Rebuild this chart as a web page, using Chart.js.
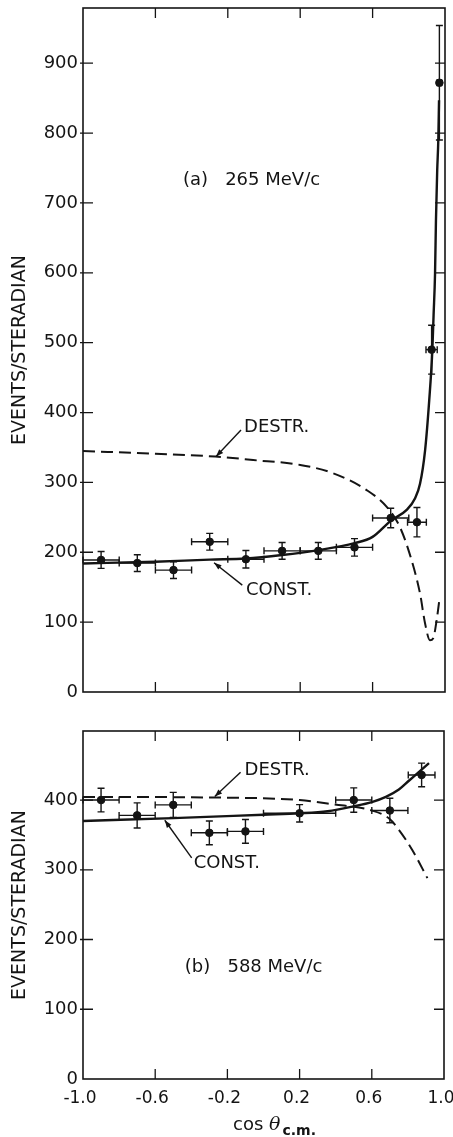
<!DOCTYPE html>
<html><head><meta charset="utf-8">
<script src="https://cdn.jsdelivr.net/npm/chart.js@4.4.0/dist/chart.umd.min.js"></script>
<style>
html,body{margin:0;padding:0;background:#fff;}
body{width:453px;height:1137px;position:relative;overflow:hidden;}
canvas{position:absolute;left:0;}
#ca{top:0;} #cb{top:710px;}
</style></head><body>
<canvas id="ca" width="453" height="700"></canvas>
<canvas id="cb" width="453" height="427"></canvas>
<script>
// ---------- data ----------
const xTickValues = [-1.0, -0.6, -0.2, 0.2, 0.6, 1.0];
const yTicksA = [0, 100, 200, 300, 400, 500, 600, 700, 800, 900];
const yTicksB = [0, 100, 200, 300, 400];

// panel (a) 265 MeV/c measured points
const cosA  = [-0.9, -0.7, -0.5, -0.3, -0.1, 0.1, 0.3, 0.5, 0.7, 0.845, 0.926, 0.969];
const valA  = [189, 184.5, 174.5, 215, 190, 202, 202, 207, 249, 243, 490, 872];
const yErrA = [12, 12, 12, 12, 12.5, 12, 12, 12.5, 14, 21, 35, 82];
const xErrA = [0.1, 0.1, 0.1, 0.1, 0.1, 0.1, 0.1, 0.1, 0.1, 0.052, 0.031, 0.012];
// panel (a) curves
const constAx = [-1, -0.6, -0.3, -0.1, 0.1, 0.3, 0.5, 0.6, 0.7, 0.79, 0.834, 0.862, 0.89, 0.913, 0.93, 0.937, 0.945, 0.95, 0.957, 0.963, 0.967];
const constAy = [184, 186.5, 189.5, 191, 196, 203, 213, 222, 245, 261, 277, 298, 346, 418, 489, 540, 599, 675, 747, 790, 847];
const destrAx = [-1, -0.6, -0.27, -0.06, 0.2, 0.383, 0.567, 0.678, 0.751, 0.815, 0.862, 0.89, 0.917, 0.935, 0.954, 0.969];
const destrAy = [345, 341, 337, 332, 325, 313, 289, 265, 236, 189, 141, 98, 74, 77, 103, 132];

// panel (b) 588 MeV/c measured points
const cosB  = [-0.9, -0.7, -0.5, -0.3, -0.1, 0.2, 0.5, 0.7, 0.876];
const valB  = [400, 378, 393, 353, 355, 381, 400, 385, 436];
const yErrB = [17, 18, 18, 17, 17, 12.5, 17.5, 17.5, 17];
const xErrB = [0.1, 0.1, 0.1, 0.1, 0.1, 0.2, 0.1, 0.1, 0.074];
// panel (b) curves
const constBx = [-1, -0.5, 0, 0.2, 0.355, 0.5, 0.6, 0.678, 0.75, 0.807, 0.86, 0.917];
const constBy = [370, 374, 379, 381, 384, 391, 397, 404.5, 415, 428, 440, 453];
const destrBx = [-1, -0.27, 0.2, 0.383, 0.6, 0.696, 0.751, 0.825, 0.908];
const destrBy = [404.5, 403.6, 400, 394, 385, 373.5, 357, 328, 288];

// annotation texts (positions in data units)
const notesA = [
  {text: '(a)   265 MeV/c', x: -0.448, y: 732},
  {text: 'DESTR.', x: -0.11, y: 379, from: [-0.127, 375], to: [-0.265, 337]},
  {text: 'CONST.', x: -0.10, y: 146, from: [-0.12, 153], to: [-0.276, 185]}
];
const notesB = [
  {text: '(b)   588 MeV/c', x: -0.436, y: 160},
  {text: 'DESTR.', x: -0.105, y: 443, from: [-0.127, 440], to: [-0.27, 405]},
  {text: 'CONST.', x: -0.387, y: 309, from: [-0.398, 317], to: [-0.547, 371]}
];
const yTitle = 'EVENTS/STERADIAN';

// ---------- helpers ----------
const FONT = 'DejaVu Sans';
const INK = '#141414';
const zip = (xs, ys) => xs.map((x, i) => ({x, y: ys[i]}));

const framePlugin = {
  id: 'frame',
  afterDraw(chart) {
    const {ctx, chartArea: a, scales: {x, y}} = chart;
    ctx.save();
    ctx.strokeStyle = INK;
    ctx.lineWidth = 1.6;
    ctx.strokeRect(a.left, a.top, a.right - a.left, a.bottom - a.top);
    ctx.lineWidth = 1.3;
    const L = 10;
    ctx.beginPath();
    x.ticks.forEach(t => {
      const px = x.getPixelForValue(t.value);
      if (px <= a.left + 1 || px >= a.right - 1) return;
      ctx.moveTo(px, a.bottom); ctx.lineTo(px, a.bottom - L);
      ctx.moveTo(px, a.top); ctx.lineTo(px, a.top + L);
    });
    y.ticks.forEach(t => {
      const py = y.getPixelForValue(t.value);
      if (py >= a.bottom - 1 || py <= a.top + 1) return;
      ctx.moveTo(a.left - 3, py); ctx.lineTo(a.left + L, py);
      ctx.moveTo(a.right, py); ctx.lineTo(a.right - L, py);
    });
    ctx.stroke();
    ctx.restore();
  }
};

const errPlugin = {
  id: 'errbars',
  afterDatasetsDraw(chart) {
    const {ctx, scales: {x, y}} = chart;
    ctx.save();
    ctx.strokeStyle = INK;
    ctx.lineWidth = 1.4;
    chart.data.datasets.forEach(ds => {
      if (!ds.errY) return;
      ds.data.forEach((p, i) => {
        const px = x.getPixelForValue(p.x), py = y.getPixelForValue(p.y);
        const y1 = y.getPixelForValue(p.y - ds.errY[i]), y2 = y.getPixelForValue(p.y + ds.errY[i]);
        const x1 = x.getPixelForValue(p.x - ds.errX[i]), x2 = x.getPixelForValue(p.x + ds.errX[i]);
        const c = 3.5;
        ctx.beginPath();
        ctx.moveTo(px, y1); ctx.lineTo(px, y2);
        ctx.moveTo(px - c, y1); ctx.lineTo(px + c, y1);
        ctx.moveTo(px - c, y2); ctx.lineTo(px + c, y2);
        ctx.moveTo(x1, py); ctx.lineTo(x2, py);
        ctx.moveTo(x1, py - c); ctx.lineTo(x1, py + c);
        ctx.moveTo(x2, py - c); ctx.lineTo(x2, py + c);
        ctx.stroke();
      });
    });
    ctx.restore();
  }
};

const notePlugin = {
  id: 'notes',
  afterDraw(chart, args, opts) {
    const {ctx, scales: {x, y}} = chart;
    ctx.save();
    ctx.fillStyle = INK; ctx.strokeStyle = INK;
    ctx.font = '18px "' + FONT + '"';
    ctx.textAlign = 'left'; ctx.textBaseline = 'middle';
    (opts.items || []).forEach(n => {
      ctx.fillText(n.text, x.getPixelForValue(n.x), y.getPixelForValue(n.y));
      if (n.from) {
        const sx = x.getPixelForValue(n.from[0]), sy = y.getPixelForValue(n.from[1]);
        const tx = x.getPixelForValue(n.to[0]), ty = y.getPixelForValue(n.to[1]);
        ctx.lineWidth = 1.4;
        ctx.beginPath(); ctx.moveTo(sx, sy); ctx.lineTo(tx, ty); ctx.stroke();
        const ang = Math.atan2(ty - sy, tx - sx), h = 8, w = 0.35;
        ctx.beginPath();
        ctx.moveTo(tx, ty);
        ctx.lineTo(tx - h * Math.cos(ang - w), ty - h * Math.sin(ang - w));
        ctx.lineTo(tx - h * Math.cos(ang + w), ty - h * Math.sin(ang + w));
        ctx.closePath(); ctx.fill();
      }
    });
    if (opts.xTitle) {
      const t = opts.xTitle;
      ctx.textBaseline = 'alphabetic';
      ctx.font = '18px "' + FONT + '"';
      ctx.fillText('cos ', t.left, t.base);
      let w = ctx.measureText('cos ').width;
      ctx.font = 'italic 19px "DejaVu Serif"';
      ctx.fillText('θ', t.left + w, t.base);
      w += ctx.measureText('θ').width + 2;
      ctx.font = 'bold 14px "' + FONT + '"';
      ctx.fillText('c.m.', t.left + w, t.base + 5);
    }
    ctx.restore();
  }
};

const noPad = s => { s.paddingTop = 0; s.paddingBottom = 0; s.paddingLeft = 0; s.paddingRight = 0; };

function makeChart(id, cfg) {
  return new Chart(document.getElementById(id), {
    type: 'scatter',
    data: {
      datasets: [
        {type: 'line', data: zip(cfg.cx, cfg.cy), borderColor: INK, borderWidth: 2.4,
         pointRadius: 0, cubicInterpolationMode: 'monotone', fill: false, order: 3},
        {type: 'line', data: zip(cfg.dx, cfg.dy), borderColor: INK, borderWidth: 2,
         borderDash: [12, 6], pointRadius: 0, cubicInterpolationMode: 'monotone', fill: false, order: 2},
        {data: zip(cfg.px, cfg.py), errY: cfg.ey, errX: cfg.ex, backgroundColor: INK,
         borderColor: INK, pointRadius: 3.8, pointStyle: 'circle', order: 1}
      ]
    },
    options: {
      responsive: false, animation: false, devicePixelRatio: 1,
      layout: {padding: cfg.padding},
      plugins: {legend: {display: false}, tooltip: {enabled: false},
                notes: {items: cfg.notes, xTitle: cfg.xTitle}},
      scales: {
        x: {
          type: 'linear', min: -1, max: 1,
          grid: {display: false, drawTicks: false}, border: {display: false},
          afterBuildTicks: s => { s.ticks = xTickValues.map(v => ({value: v})); },
          afterFit: s => { s.height = cfg.xHeight; noPad(s); },
          ticks: {display: cfg.xLabels, padding: 9, labelOffset: -3, color: INK,
                  font: {family: FONT, size: 17},
                  maxRotation: 0, autoSkip: false, callback: v => v.toFixed(1)}
        },
        y: {
          type: 'linear', min: 0, max: cfg.ymax,
          grid: {display: false, drawTicks: false}, border: {display: false},
          afterBuildTicks: s => { s.ticks = cfg.yt.map(v => ({value: v})); },
          afterFit: s => { s.width = 83; noPad(s); },
          ticks: {padding: 5, color: INK, font: {family: FONT, size: 18}, callback: v => String(v)},
          title: {display: true, text: yTitle, color: INK, font: {family: FONT, size: 19},
                  padding: {top: 9, bottom: 0}}
        }
      }
    },
    plugins: [framePlugin, errPlugin, notePlugin]
  });
}

makeChart('ca', {
  cx: constAx, cy: constAy, dx: destrAx, dy: destrAy,
  px: cosA, py: valA, ey: yErrA, ex: xErrA,
  ymax: 979, yt: yTicksA, notes: notesA,
  padding: {top: 8, right: 8, bottom: 0, left: 0}, xHeight: 8, xLabels: false
});
makeChart('cb', {
  cx: constBx, cy: constBy, dx: destrBx, dy: destrBy,
  px: cosB, py: valB, ey: yErrB, ex: xErrB,
  ymax: 499, yt: yTicksB, notes: notesB,
  padding: {top: 21, right: 9, bottom: 0, left: 0}, xHeight: 58, xLabels: true,
  xTitle: {left: 233, base: 420}
});
</script>
</body></html>
